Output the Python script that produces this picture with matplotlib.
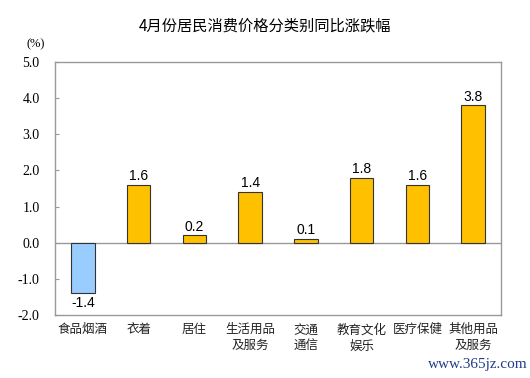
import matplotlib
matplotlib.use("Agg")
import matplotlib.pyplot as plt

plt.rcParams['font.family'] = ['Noto Sans CJK SC', 'DejaVu Sans']

categories = ["食品烟酒", "衣着", "居住", "生活用品\n及服务", "交通\n通信", "教育文化\n娱乐", "医疗保健", "其他用品\n及服务"]
values = [-1.4, 1.6, 0.2, 1.4, 0.1, 1.8, 1.6, 3.8]
yticks = [-2.0, -1.0, 0.0, 1.0, 2.0, 3.0, 4.0, 5.0]

fig = plt.figure(figsize=(5.3, 3.78), dpi=100)
ax = fig.add_axes([0.1038, 0.1667, 0.8415, 0.6693])

colors = ["#99CCFF" if v < 0 else "#FFC000" for v in values]
x = list(range(len(categories)))
ax.bar(x, values, width=0.42, color=colors, edgecolor="#333333", linewidth=0.8, zorder=3)

for xi, v in zip(x, values):
    if v < 0:
        ax.text(xi, v - 0.08, f"{v:.1f}", ha="center", va="top", fontsize=10, family=['Liberation Sans'])
    else:
        ax.text(xi, v + 0.05, f"{v:.1f}", ha="center", va="bottom", fontsize=10, family=['Liberation Sans'])

ax.set_xlim(-0.5, len(categories) - 0.5)
ax.set_ylim(-2.0, 5.0)
ax.axhline(0, color="#999999", linewidth=1.0, zorder=2)
ax.set_yticks(yticks)
ax.set_yticklabels([f"{t:.1f}" for t in yticks], family=['Liberation Serif'], fontsize=10)
ax.set_xticks(x)
ax.set_xticklabels(categories, fontsize=9, linespacing=1.3, va="top", color="#222222")
ax.tick_params(axis="x", length=0, pad=6)
ax.tick_params(axis="y", length=3, direction="in", color="#999999", pad=11)
for s in ax.spines.values():
    s.set_color("#999999")
    s.set_linewidth(1.0)

fig.text(0.5, 0.931, "4月份居民消费价格分类别同比涨跌幅", ha="center", va="center", fontsize=11)
fig.text(0.068, 0.882, "(%)", ha="center", va="center", fontsize=9, family=['Liberation Serif'])
fig.text(0.995, 0.035, "www.365jz.com", ha="right", va="center", fontsize=11, color="#1F3C88", family=['Liberation Serif'])

fig.savefig("out.png", dpi=100)
